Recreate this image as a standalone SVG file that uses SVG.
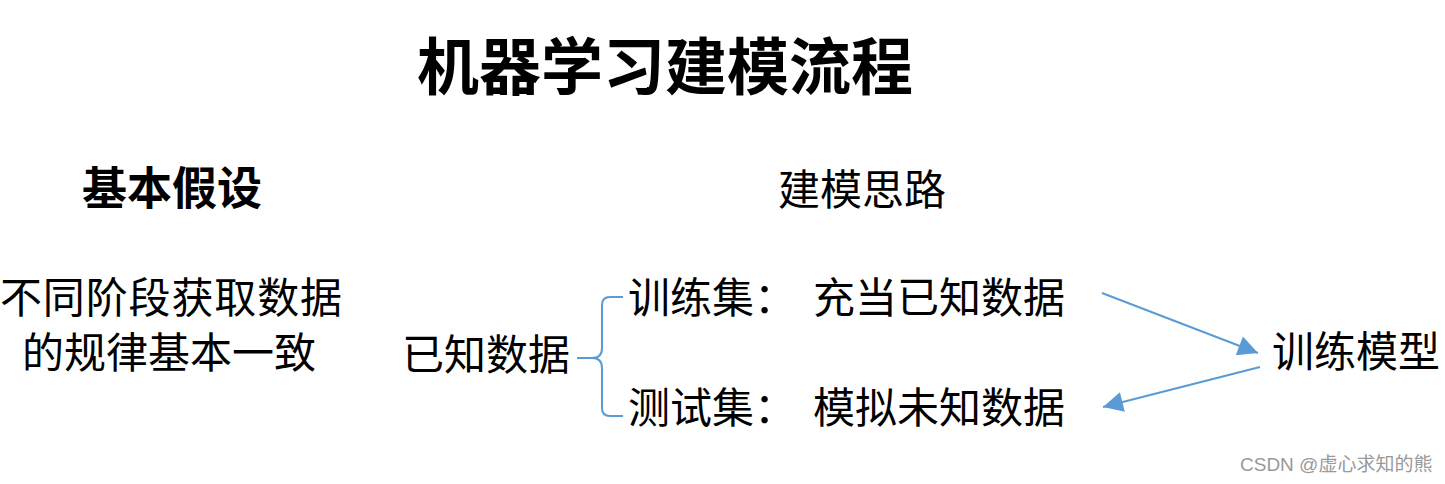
<svg xmlns="http://www.w3.org/2000/svg" width="1445" height="484" viewBox="0 0 1445 484">
<style>
text{font-family:"Noto Sans CJK SC","Noto Sans",sans-serif;fill:#000}
.t{font-size:42px}
.b{font-weight:bold}
.c{fill:none;stroke:#5B9BD5;stroke-width:2}
</style>
<defs>
<marker id="ah2" viewBox="0 0 10 10" refX="10" refY="5" markerWidth="24" markerHeight="20" markerUnits="userSpaceOnUse" orient="auto"><path d="M0,0 L10,5 L0,10 z" fill="#5B9BD5"/></marker>
</defs>
<rect width="1445" height="484" fill="#fff"/>
<g id="title"><text x="417" y="90" class="b" style="font-size:62px">机器学习建模流程</text></g>
<g id="assume"><text x="82" y="205" class="b" style="font-size:45px">基本假设</text></g>
<g id="idea"><text x="778" y="205" class="t">建模思路</text></g>
<g id="premise"><text x="0" y="313" class="t" textLength="342">不同阶段获取数据</text><text x="22" y="368" class="t">的规律基本一致</text></g>
<g id="known"><text x="402" y="370" class="t">已知数据</text></g>
<g id="train"><text x="628" y="313" class="t">训练集：</text><text x="813" y="313" class="t">充当已知数据</text></g>
<g id="test"><text x="628" y="423" class="t">测试集：</text><text x="813" y="423" class="t">模拟未知数据</text></g>
<g id="model"><text x="1272" y="367" class="t">训练模型</text></g>
<g id="connectors">
<path class="c" d="M577,358 H592 Q602,358 602,348 V305 Q602,297 610,297 H623"/>
<path class="c" d="M592,358 Q602,358 602,368 V408 Q602,416 610,416 H623"/>
<line class="c" x1="1102" y1="293" x2="1258" y2="353" marker-end="url(#ah2)"/>
<line class="c" x1="1260" y1="367" x2="1103" y2="407" marker-end="url(#ah2)"/>
</g>
<g id="watermark"><text x="1240" y="471" style="font-size:19px;fill:#999"><tspan style="font-family:'Liberation Sans',sans-serif">CSDN @</tspan>虚心求知的熊</text></g>
</svg>
